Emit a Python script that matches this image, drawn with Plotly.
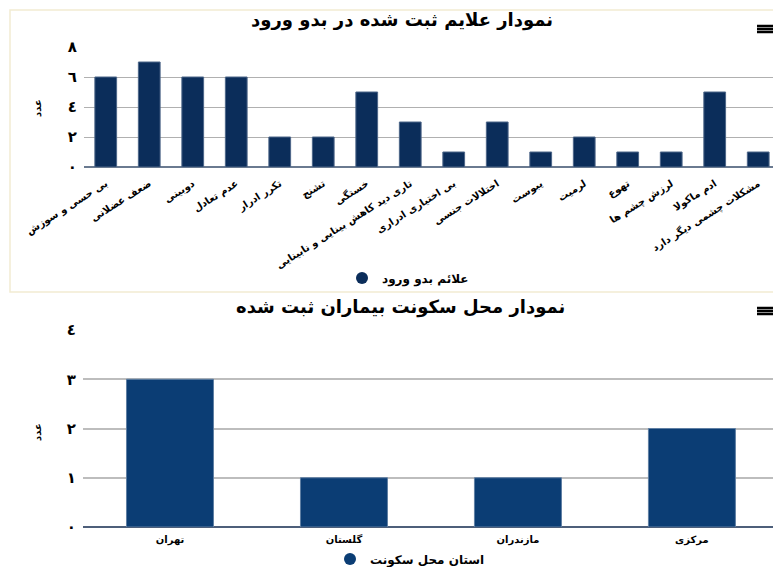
import plotly.graph_objects as go

# ---- data ----
symptoms = ["بی حسی و سوزش", "ضعف عضلانی", "دوبینی", "عدم تعادل", "تکرر ادرار", "تشنج",
            "خستگی", "تاری دید کاهش بینایی و نابینایی", "بی اختیاری ادراری", "اختلالات جنسی",
            "یبوست", "لرمیت", "تهوع", "لرزش چشم ها", "ادم ماکولا", "مشکلات چشمی دیگر دارد"]
symptom_counts = [6, 7, 6, 6, 2, 2, 5, 3, 1, 3, 1, 2, 1, 1, 5, 1]

provinces = ["تهران", "گلستان", "مازندران", "مرکزی"]
province_counts = [3, 1, 1, 2]

top_ticks = [0, 2, 4, 6, 8]
top_tick_labels = ["٠", "٢", "٤", "٦", "٨"]
bot_ticks = [0, 1, 2, 3, 4]
bot_tick_labels = ["٠", "١", "٢", "٣", "٤"]

title_top = "نمودار علایم ثبت شده در بدو ورود"
title_bot = "نمودار محل سکونت بیماران ثبت شده"
legend_top = "علائم بدو ورود"
legend_bot = "استان محل سکونت"
y_title = "عدد"

W, H = 773, 567
FONT = "DejaVu Sans"
def py(p):
    return 1 - p / H
def px(p):
    return p / W

fig = go.Figure()

fig.add_trace(go.Bar(x=symptoms, y=symptom_counts, xaxis="x", yaxis="y",
                     marker=dict(color="#0b2d5a", line=dict(color="#4d6688", width=1)),
                     showlegend=False, hoverinfo="x+y"))
fig.add_trace(go.Scatter(x=[None], y=[None], xaxis="x", yaxis="y", mode="markers",
                         marker=dict(symbol="circle", size=13, color="#0b2d5a"),
                         name="<b>" + legend_top + "</b>", legend="legend"))

fig.add_trace(go.Bar(x=provinces, y=province_counts, xaxis="x2", yaxis="y2",
                     marker=dict(color="#0b3d74", line=dict(color="#5f7fa3", width=1)),
                     showlegend=False, hoverinfo="x+y"))
fig.add_trace(go.Scatter(x=[None], y=[None], xaxis="x2", yaxis="y2", mode="markers",
                         marker=dict(symbol="circle", size=13, color="#0b3d74"),
                         name="<b>" + legend_bot + "</b>", legend="legend2"))

axis_font = dict(family=FONT, size=15, color="#000000", weight="bold")

def menu_icon(yc):
    return [dict(type="line", xref="paper", yref="paper", x0=px(757), x1=px(773),
                 y0=py(yc + d), y1=py(yc + d), line=dict(color="#000000", width=2.5))
            for d in (-3, 0, 3)]

fig.update_layout(
    width=W, height=H,
    margin=dict(l=0, r=0, t=0, b=0, autoexpand=False),
    paper_bgcolor="white", plot_bgcolor="white",
    font=dict(family=FONT, color="#000000"),
    bargap=0.5,
    xaxis=dict(domain=[px(84), 1], range=[-0.5, 15.34], tickangle=-32, automargin=False,
               tickfont=dict(family=FONT, size=10, color="#000", weight="bold"), showgrid=False,
               ticks="", showline=False, fixedrange=True, ticklabelstandoff=8),
    yaxis=dict(domain=[py(167), py(47)], range=[0, 8], tickvals=top_ticks, automargin=False,
               ticktext=top_tick_labels, tickfont=axis_font, showgrid=True,
               gridcolor="#b0b0b0", gridwidth=1, zeroline=True, zerolinecolor="#6a7a90",
               zerolinewidth=1.5, ticks="", ticklabelstandoff=6, fixedrange=True),
    xaxis2=dict(domain=[px(83), 1], range=[-0.5, 3.466], automargin=False,
                tickfont=dict(family=FONT, size=10, color="#000", weight="bold"), showgrid=False,
                ticks="", showline=False, fixedrange=True, anchor="y2", ticklabelstandoff=5),
    yaxis2=dict(domain=[py(527), py(330)], range=[0, 4], tickvals=bot_ticks, automargin=False,
                ticktext=bot_tick_labels, tickfont=axis_font, showgrid=True,
                gridcolor="#bdbdbd", gridwidth=1.5, zeroline=True, zerolinecolor="#4d5f7a",
                zerolinewidth=1.5, ticks="", ticklabelstandoff=6, fixedrange=True,
                anchor="x2"),
    legend=dict(orientation="h", x=px(408), y=py(278), xanchor="center", yanchor="middle",
                font=dict(family=FONT, size=12, color="#000"), bgcolor="rgba(0,0,0,0)",
                itemsizing="constant"),
    legend2=dict(orientation="h", x=px(410), y=py(559), xanchor="center", yanchor="middle",
                 font=dict(family=FONT, size=12, color="#000"), bgcolor="rgba(0,0,0,0)",
                 itemsizing="constant"),
    shapes=[
        dict(type="rect", xref="paper", yref="paper", x0=px(10), x1=1.01, y0=py(292), y1=py(10),
             line=dict(color="#f2ecd2", width=1.5), fillcolor="rgba(0,0,0,0)", layer="below"),
    ] + menu_icon(29) + menu_icon(311),
    annotations=[
        dict(text="<b>" + title_top + "</b>", x=px(402), y=py(20), xref="paper", yref="paper",
             showarrow=False, font=dict(family=FONT, size=18, color="#000"),
             xanchor="center", yanchor="middle"),
        dict(text="<b>" + title_bot + "</b>", x=px(400), y=py(307), xref="paper", yref="paper",
             showarrow=False, font=dict(family=FONT, size=18, color="#000"),
             xanchor="center", yanchor="middle"),
        dict(text="<b>" + y_title + "</b>", x=px(37), y=py(108), xref="paper", yref="paper",
             textangle=-90, showarrow=False, font=dict(family=FONT, size=10, color="#000"),
             xanchor="center", yanchor="middle"),
        dict(text="<b>" + y_title + "</b>", x=px(37), y=py(432), xref="paper", yref="paper",
             textangle=-90, showarrow=False, font=dict(family=FONT, size=10, color="#000"),
             xanchor="center", yanchor="middle"),
    ],
)

fig.write_html("out.html", config={"displayModeBar": False},
               post_script="document.body.style.margin='0';document.body.style.overflow='hidden';")
